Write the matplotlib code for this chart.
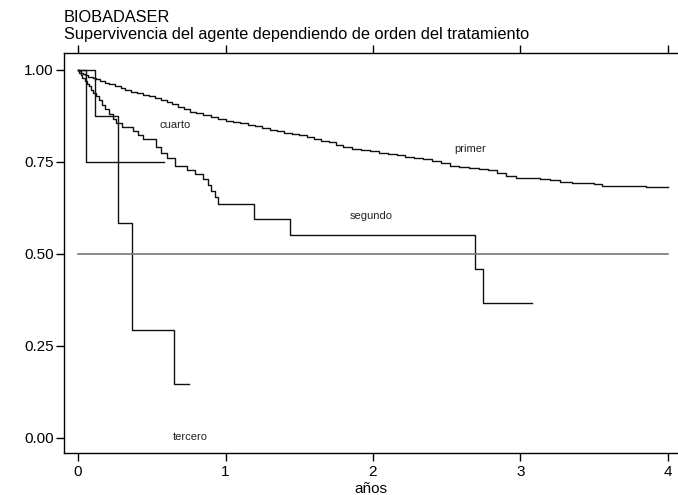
import matplotlib
matplotlib.use("Agg")
import matplotlib.pyplot as plt

plt.rcParams['font.family'] = ['Liberation Sans', 'DejaVu Sans']

# Kaplan-Meier step curves (time in years, survival)
primer_t = [0, 0.01, 0.02, 0.035, 0.05, 0.065, 0.08, 0.10, 0.12, 0.15, 0.18, 0.21, 0.25,
            0.29, 0.32, 0.36, 0.40, 0.44, 0.48, 0.52, 0.56, 0.60, 0.64, 0.68, 0.72, 0.76,
            0.80, 0.85, 0.90, 0.95, 1.00, 1.05, 1.10, 1.15, 1.20, 1.25, 1.30, 1.35, 1.40,
            1.45, 1.50, 1.55, 1.60, 1.65, 1.70, 1.75, 1.80, 1.86, 1.92, 1.98, 2.04, 2.10,
            2.16, 2.22, 2.28, 2.34, 2.40, 2.46, 2.52, 2.58, 2.65, 2.72, 2.78, 2.84, 2.90,
            2.97, 3.05, 3.13, 3.20, 3.27, 3.35, 3.43, 3.50, 3.55, 3.65, 3.75, 3.85, 4.0]
primer_s = [1.0, 0.996, 0.992, 0.988, 0.985, 0.982, 0.98, 0.977, 0.974, 0.969, 0.965,
            0.961, 0.956, 0.95, 0.946, 0.941, 0.937, 0.932, 0.928, 0.923, 0.918, 0.913,
            0.907, 0.90, 0.894, 0.887, 0.882, 0.877, 0.872, 0.867, 0.862, 0.859, 0.855,
            0.851, 0.847, 0.843, 0.838, 0.834, 0.829, 0.826, 0.823, 0.818, 0.813, 0.808,
            0.803, 0.797, 0.790, 0.786, 0.783, 0.779, 0.775, 0.772, 0.768, 0.764, 0.760,
            0.757, 0.752, 0.746, 0.739, 0.736, 0.733, 0.730, 0.727, 0.719, 0.713, 0.706,
            0.705, 0.704, 0.700, 0.695, 0.694, 0.693, 0.690, 0.685, 0.685, 0.684, 0.681,
            0.681]

segundo_t = [0, 0.01, 0.02, 0.03, 0.045, 0.06, 0.075, 0.09, 0.105, 0.12, 0.14, 0.16,
             0.18, 0.21, 0.24, 0.26, 0.30, 0.37, 0.41, 0.44, 0.53, 0.56, 0.60, 0.66,
             0.74, 0.79, 0.85, 0.88, 0.90, 0.93, 0.95, 1.19, 1.44, 2.69, 2.745, 3.08]
segundo_s = [1.0, 0.993, 0.986, 0.978, 0.970, 0.962, 0.955, 0.945, 0.937, 0.928, 0.918,
             0.905, 0.893, 0.880, 0.868, 0.856, 0.846, 0.835, 0.823, 0.812, 0.790, 0.774,
             0.762, 0.740, 0.728, 0.717, 0.703, 0.688, 0.672, 0.654, 0.636, 0.596, 0.552,
             0.458, 0.366, 0.366]

tercero_t = [0, 0.115, 0.27, 0.366, 0.65, 0.75]
tercero_s = [1.0, 0.875, 0.583, 0.292, 0.146, 0.146]

cuarto_t = [0, 0.054, 0.58]
cuarto_s = [1.0, 0.75, 0.75]

labels = ["primer", "segundo", "tercero", "cuarto"]
label_x = [2.66, 1.99, 0.76, 0.66]
label_y = [0.785, 0.603, 0.003, 0.85]

x_ticks = [0, 1, 2, 3, 4]
y_ticks = [0.00, 0.25, 0.50, 0.75, 1.00]
y_ticklabels = ["0.00", "0.25", "0.50", "0.75", "1.00"]

fig = plt.figure(figsize=(6.78, 4.95), dpi=100)
ax = fig.add_axes([64/678, 1 - 453/495, 1 - 64/678, (453 - 53)/495])

line_kw = dict(where='post', color='#111111', linewidth=1.0)
ax.step(primer_t, primer_s, **line_kw)
ax.step(segundo_t, segundo_s, **line_kw)
ax.step(tercero_t, tercero_s, **line_kw)
ax.step(cuarto_t, cuarto_s, **line_kw)
ax.plot([0, 4], [0.5, 0.5], color='#777777', linewidth=1.2)

for lab, lx, ly in zip(labels, label_x, label_y):
    ax.text(lx, ly, lab, fontsize=8, ha='center', va='center', color='#222222')

ax.set_xlim(-0.095, 4.068)
ax.set_ylim(-0.041, 1.046)
ax.set_xticks(x_ticks)
ax.set_yticks(y_ticks)
ax.set_yticklabels(y_ticklabels)
ax.tick_params(axis='both', direction='out', length=6, width=1, labelsize=11,
               colors='black', pad=1.5)
ax.tick_params(axis='x', top=True, labeltop=False, pad=3)
ax.spines['right'].set_visible(False)
for s in ['left', 'bottom', 'top']:
    ax.spines[s].set_linewidth(1.0)
ax.set_xlabel("años", fontsize=11, labelpad=2)

fig.text(64/678, 1 - 18/495, "BIOBADASER", fontsize=11.8, ha='left', va='center')
fig.text(64/678, 1 - 35/495, "Supervivencia del agente dependiendo de orden del tratamiento",
         fontsize=11.8, ha='left', va='center')

fig.savefig("out.png", dpi=100)
